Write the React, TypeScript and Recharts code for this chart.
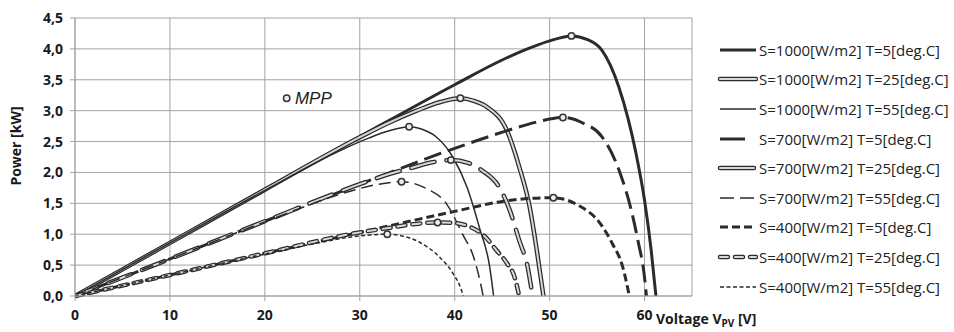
import { ComposedChart, Line, XAxis, YAxis, CartesianGrid, ReferenceDot, Legend } from 'recharts';

// PV array power curves: [voltage V, power kW]
const s1000t5 = [[0, 0], [10, 0.86], [20, 1.73], [30, 2.58], [40, 3.42], [45, 3.82], [48, 4.02], [50, 4.13], [52.3, 4.21], [54, 4.15], [55.5, 3.98], [57.3, 3.38], [59.1, 2.31], [60, 1.55], [60.7, 0.74], [61.2, 0]];
const s1000t25 = [[0, 0], [10, 0.86], [20, 1.72], [30, 2.57], [33, 2.8], [36, 3.0], [38.5, 3.14], [40.6, 3.2], [42, 3.16], [43.4, 3.06], [45.5, 2.68], [46.8, 2.09], [47.9, 1.44], [48.6, 0.79], [49.35, 0]];
const s1000t55 = [[0, 0], [10, 0.86], [20, 1.71], [28, 2.36], [31, 2.56], [33, 2.67], [35.2, 2.74], [36.7, 2.69], [38.1, 2.57], [39.8, 2.25], [41.3, 1.76], [42.6, 1.11], [43.7, 0.46], [44.1, 0]];
const s700t5 = [[0, 0], [10, 0.6], [20, 1.21], [30, 1.81], [40, 2.39], [43.4, 2.57], [46, 2.7], [48.5, 2.81], [51.4, 2.89], [53.5, 2.8], [55.5, 2.58], [57.4, 2.0], [58.6, 1.39], [59.3, 0.9], [60, 0.3], [60.2, 0]];
const s700t25 = [[0, 0], [10, 0.6], [20, 1.21], [30, 1.81], [33, 1.97], [35.6, 2.08], [37.5, 2.16], [39.6, 2.2], [41.5, 2.15], [42.9, 2.03], [44.7, 1.76], [45.8, 1.39], [46.8, 0.9], [47.7, 0.46], [48.2, 0]];
const s700t55 = [[0, 0], [10, 0.6], [20, 1.2], [27, 1.6], [30, 1.74], [32, 1.81], [34.4, 1.85], [37, 1.74], [39.1, 1.5], [40.8, 1.01], [42.1, 0.58], [42.8, 0.15], [43, 0]];
const s400t5 = [[0, 0], [10, 0.34], [20, 0.69], [30, 1.03], [40, 1.37], [45, 1.53], [48, 1.58], [50.4, 1.59], [53, 1.47], [55.3, 1.18], [56.6, 0.85], [57.7, 0.47], [58.4, 0]];
const s400t25 = [[0, 0], [10, 0.34], [20, 0.69], [30, 1.03], [33, 1.1], [35.5, 1.16], [38.2, 1.19], [40, 1.18], [41.6, 1.12], [43.2, 0.96], [44.4, 0.74], [45.5, 0.53], [46.3, 0.31], [46.8, 0]];
const s400t55 = [[0, 0], [10, 0.34], [20, 0.68], [25, 0.84], [28, 0.93], [30.5, 0.98], [32.9, 1.0], [34.2, 0.98], [36.3, 0.87], [38.4, 0.63], [39.8, 0.37], [40.7, 0.1], [40.9, 0]];

const xTicks = [0, 10, 20, 30, 40, 50, 60];
const xMinorTicks = [2, 4, 6, 8, 12, 14, 16, 18, 22, 24, 26, 28, 32, 34, 36, 38, 42, 44, 46, 48, 52, 54, 56, 58, 62, 64];
const yTicks = [0, 0.5, 1, 1.5, 2, 2.5, 3, 3.5, 4, 4.5];
const mppKey = [22.3, 3.2];

const INK = '#2b2b2b';
const FILL = '#d8d8d8';
const GRID = '#a3a3a3';
const FONT = '"Open Sans", "DejaVu Sans", sans-serif';

type Pt = { v: number; p: number };
const toPts = (a: number[][]): Pt[] => a.map(([v, p]) => ({ v, p }));

type Style = { width: number; dash?: string; double?: boolean; legendDash?: string };
const series: { name: string; data: number[][]; style: Style }[] = [
  { name: 'S=1000[W/m2] T=5[deg.C]', data: s1000t5, style: { width: 3 } },
  { name: 'S=1000[W/m2] T=25[deg.C]', data: s1000t25, style: { width: 4.5, double: true } },
  { name: 'S=1000[W/m2] T=55[deg.C]', data: s1000t55, style: { width: 1.5 } },
  { name: 'S=700[W/m2] T=5[deg.C]', data: s700t5, style: { width: 3, dash: '18 7', legendDash: '25 40' } },
  { name: 'S=700[W/m2] T=25[deg.C]', data: s700t25, style: { width: 4.5, double: true, dash: '24 12', legendDash: '34 40' } },
  { name: 'S=700[W/m2] T=55[deg.C]', data: s700t55, style: { width: 1.5, dash: '12 6', legendDash: '14 6' } },
  { name: 'S=400[W/m2] T=5[deg.C]', data: s400t5, style: { width: 3, dash: '8 4', legendDash: '8 4' } },
  { name: 'S=400[W/m2] T=25[deg.C]', data: s400t25, style: { width: 4.5, double: true, dash: '8 7', legendDash: '8 7' } },
  { name: 'S=400[W/m2] T=55[deg.C]', data: s400t55, style: { width: 1.5, dash: '4 2.5', legendDash: '4 2.5' } },
];

// maximum power point of every curve
const mpps = series.map((s) => s.data.reduce((a, b) => (b[1] > a[1] ? b : a)));

const fmtY = (v: number) => v.toFixed(1).replace('.', ',');

function LegendBox() {
  return (
    <div style={{ fontFamily: FONT, fontSize: 15, color: '#222' }}>
      {series.map((s) => {
        const st = s.style;
        const dash = st.legendDash;
        return (
          <div key={s.name} style={{ height: 29.6, display: 'flex', alignItems: 'center', whiteSpace: 'nowrap' }}>
            <svg width={46} height={12} style={{ flex: 'none' }}>
              <line x1={8} y1={6} x2={44} y2={6} stroke={INK} strokeWidth={st.width} strokeDasharray={dash} strokeLinecap={st.double ? 'round' : 'butt'} />
              {st.double && (
                <line x1={8} y1={6} x2={44} y2={6} stroke={FILL} strokeWidth={2} strokeDasharray={dash} strokeLinecap="round" />
              )}
            </svg>
            <span style={{ marginLeft: 1 }}>{s.name}</span>
          </div>
        );
      })}
    </div>
  );
}

export default function App() {
  const lines: JSX.Element[] = [];
  series.forEach((s, i) => {
    const st = s.style;
    lines.push(
      <Line
        key={`o${i}`}
        data={toPts(s.data)}
        dataKey="p"
        type="monotone"
        stroke={INK}
        strokeWidth={st.width}
        strokeDasharray={st.dash}
        strokeLinecap={st.double && st.dash ? 'round' : 'butt'}
        dot={false}
        activeDot={false}
        legendType="none"
        isAnimationActive={false}
      />
    );
    if (st.double) {
      lines.push(
        <Line
          key={`i${i}`}
          data={toPts(s.data)}
          dataKey="p"
          type="monotone"
          stroke={FILL}
          strokeWidth={2}
          strokeDasharray={st.dash}
          strokeLinecap={st.dash ? 'round' : 'butt'}
          dot={false}
          activeDot={false}
          legendType="none"
          isAnimationActive={false}
        />
      );
    }
  });

  return (
    <div style={{ position: 'absolute', left: 0, top: 0, background: '#fff' }}>
      <ComposedChart width={954} height={332} margin={{ top: 18, right: 262, bottom: 0, left: 0 }}>
        <CartesianGrid stroke={GRID} strokeWidth={1} />
        <XAxis
          xAxisId="minor"
          dataKey="v"
          type="number"
          domain={[0, 65]}
          ticks={xMinorTicks}
          tick={false}
          axisLine={false}
          tickLine={{ stroke: GRID }}
          tickSize={4}
          mirror
          height={0}
        />
        <XAxis
          dataKey="v"
          type="number"
          domain={[0, 65]}
          ticks={xTicks}
          allowDataOverflow
          axisLine={{ stroke: GRID }}
          tickLine={{ stroke: GRID }}
          tickSize={5}
          tickMargin={9}
          height={36}
          tick={{ fill: '#1a1a1a', fontSize: 14, fontWeight: 700, fontFamily: FONT }}
          label={() => (
            <text x={656} y={324} fill="#1a1a1a" fontSize={14} fontWeight={700} fontFamily={FONT}>
              Voltage V
              <tspan fontSize={10} dy={3}>PV</tspan>
              <tspan dy={-3}> [V]</tspan>
            </text>
          )}
        />
        <YAxis
          type="number"
          domain={[0, 4.5]}
          ticks={yTicks}
          width={75}
          tickFormatter={fmtY}
          axisLine={{ stroke: GRID }}
          tickLine={{ stroke: GRID }}
          tickSize={5}
          tickMargin={7}
          tick={{ fill: '#1a1a1a', fontSize: 14, fontWeight: 700, fontFamily: FONT }}
          label={() => (
            <text x={15} y={146} transform="rotate(-90 15 146)" textAnchor="middle" dominantBaseline="central" fill="#1a1a1a" fontSize={14} fontWeight={700} fontFamily={FONT}>
              Power [kW]
            </text>
          )}
        />
        {lines}
        {mpps.map(([v, p], i) => (
          <ReferenceDot key={`m${i}`} x={v} y={p} r={3.2} fill="#eeeeee" stroke="#333" strokeWidth={1.5} ifOverflow="visible" />
        ))}
        <ReferenceDot
          x={mppKey[0]}
          y={mppKey[1]}
          r={3.2}
          fill="#eeeeee"
          stroke="#333"
          strokeWidth={1.5}
          label={{ value: 'MPP', position: 'right', offset: 5, fill: '#222', fontSize: 17, fontStyle: 'italic', fontFamily: '"Liberation Sans", Arial, sans-serif' }}
        />
        <Legend
          layout="vertical"
          align="center"
          verticalAlign="middle"
          wrapperStyle={{ left: 712, top: 35, width: 242 }}
          content={() => <LegendBox />}
        />
      </ComposedChart>
    </div>
  );
}
